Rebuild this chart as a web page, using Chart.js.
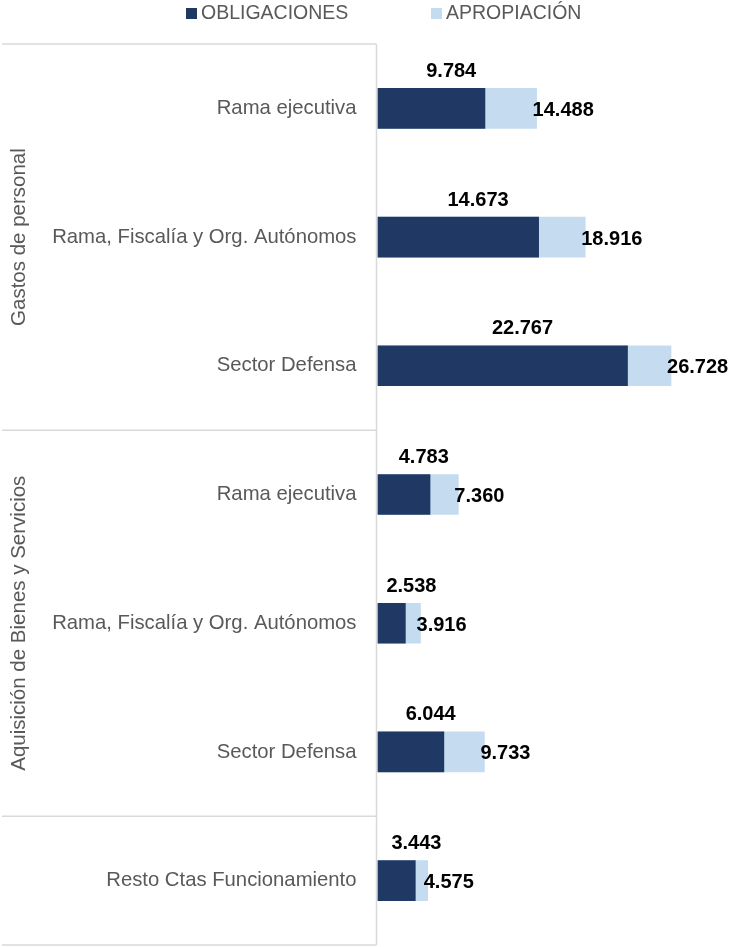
<!DOCTYPE html>
<html lang="es">
<head>
<meta charset="utf-8">
<title>Obligaciones vs Apropiación</title>
<script src="https://cdn.jsdelivr.net/npm/chart.js@4.4.1/dist/chart.umd.min.js"></script>
<style>
  html, body { margin: 0; padding: 0; background: #fff; }
  #wrap { width: 730px; height: 947px; position: relative; }
</style>
</head>
<body>
<div id="wrap"><canvas id="chart"></canvas></div>
<script>
const categories = [
  'Rama ejecutiva',
  'Rama, Fiscalía y Org. Autónomos',
  'Sector Defensa',
  'Rama ejecutiva',
  'Rama, Fiscalía y Org. Autónomos',
  'Sector Defensa',
  'Resto Ctas Funcionamiento',
];
const groupNames = ['Gastos de personal', 'Aquisición de Bienes y Servicios', ''];
const groupSizes = [3, 3, 1];

const obligaciones = [9784, 14673, 22767, 4783, 2538, 6044, 3443];
const apropiacion = [14488, 18916, 26728, 7360, 3916, 9733, 4575];

const NAVY = '#1F3864';
const LIGHT = '#C5DBEF';
const GREY_TEXT = '#595959';
const LINE = '#D9D9D9';
const FONT = "'Liberation Sans', Arial, sans-serif";

function formatMiles(n) {
  return String(n).replace(/\B(?=(\d{3})+(?!\d))/g, '.');
}

// leyenda dibujada a mano para poder pegar el texto al cuadro
const legendPlugin = {
  id: 'customLegend',
  afterDraw(chart) {
    const ctx = chart.ctx;
    const items = [
      { text: 'OBLIGACIONES', color: NAVY, x: 186 },
      { text: 'APROPIACIÓN', color: LIGHT, x: 431 },
    ];
    ctx.save();
    ctx.font = `19.5px ${FONT}`;
    ctx.textBaseline = 'middle';
    ctx.textAlign = 'left';
    items.forEach((it) => {
      ctx.fillStyle = it.color;
      ctx.fillRect(it.x, 8, 11, 11);
      ctx.fillStyle = GREY_TEXT;
      ctx.fillText(it.text, it.x + 15, 14);
    });
    ctx.restore();
  },
};

// líneas de la tabla de categorías y etiquetas de grupo giradas
const groupAxisPlugin = {
  id: 'groupAxis',
  afterDraw(chart) {
    const ctx = chart.ctx;
    const area = chart.chartArea;
    const yScale = chart.scales.y;
    const axisX = area.left - 1;

    const bounds = [area.top];
    let idx = 0;
    groupSizes.forEach((size, g) => {
      idx += size;
      if (g < groupSizes.length - 1) {
        bounds.push((yScale.getPixelForValue(idx - 1) + yScale.getPixelForValue(idx)) / 2);
      }
    });
    bounds.push(area.bottom);

    ctx.save();
    ctx.strokeStyle = LINE;
    ctx.lineWidth = 1.5;
    ctx.beginPath();
    bounds.forEach((y) => {
      ctx.moveTo(2, y);
      ctx.lineTo(axisX, y);
    });
    ctx.moveTo(axisX, area.top);
    ctx.lineTo(axisX, area.bottom);
    ctx.stroke();

    ctx.fillStyle = GREY_TEXT;
    ctx.font = `20.5px ${FONT}`;
    ctx.textAlign = 'center';
    ctx.textBaseline = 'middle';
    groupNames.forEach((name, g) => {
      if (!name) return;
      const cy = (bounds[g] + bounds[g + 1]) / 2;
      ctx.save();
      ctx.translate(19, cy);
      ctx.rotate(-Math.PI / 2);
      ctx.fillText(name, 0, 0);
      ctx.restore();
    });
    ctx.restore();
  },
};

const valueLabelPlugin = {
  id: 'valueLabels',
  afterDatasetsDraw(chart) {
    const ctx = chart.ctx;
    const metaOblig = chart.getDatasetMeta(0);
    const metaAprop = chart.getDatasetMeta(1);
    ctx.save();
    ctx.font = `bold 20px ${FONT}`;
    ctx.fillStyle = '#000';
    ctx.textBaseline = 'middle';

    metaOblig.data.forEach((bar, i) => {
      const cx = (bar.x + bar.base) / 2;
      ctx.textAlign = 'center';
      ctx.fillText(formatMiles(obligaciones[i]), cx + 20, bar.y - 37);
    });
    metaAprop.data.forEach((bar, i) => {
      ctx.textAlign = 'left';
      ctx.fillText(formatMiles(apropiacion[i]), bar.x - 4, bar.y + 2);
    });
    ctx.restore();
  },
};

new Chart(document.getElementById('chart'), {
  type: 'bar',
  data: {
    labels: categories,
    datasets: [
      {
        label: 'OBLIGACIONES',
        data: obligaciones,
        backgroundColor: NAVY,
        barThickness: 40,
        order: 0,
      },
      {
        label: 'APROPIACIÓN',
        data: apropiacion,
        backgroundColor: LIGHT,
        barThickness: 40,
        order: 1,
      },
    ],
  },
  options: {
    indexAxis: 'y',
    responsive: true,
    maintainAspectRatio: false,
    animation: false,
    layout: { padding: { top: 44, bottom: 2, left: 0, right: 0 } },
    plugins: {
      legend: { display: false },
      tooltip: { enabled: false },
    },
    scales: {
      x: {
        display: false,
        min: 0,
        max: 32100,
      },
      y: {
        grid: { display: false, drawTicks: false },
        border: { display: false },
        ticks: {
          color: GREY_TEXT,
          font: { family: FONT, size: 20.3 },
          padding: 21,
        },
        afterFit(scale) {
          // ancho fijo y sin el margen extra que reservan las etiquetas
          scale.width = 377.5;
          scale.paddingTop = 0;
          scale.paddingBottom = 0;
        },
      },
    },
    datasets: { bar: { grouped: false } },
  },
  plugins: [legendPlugin, groupAxisPlugin, valueLabelPlugin],
});
</script>
</body>
</html>
